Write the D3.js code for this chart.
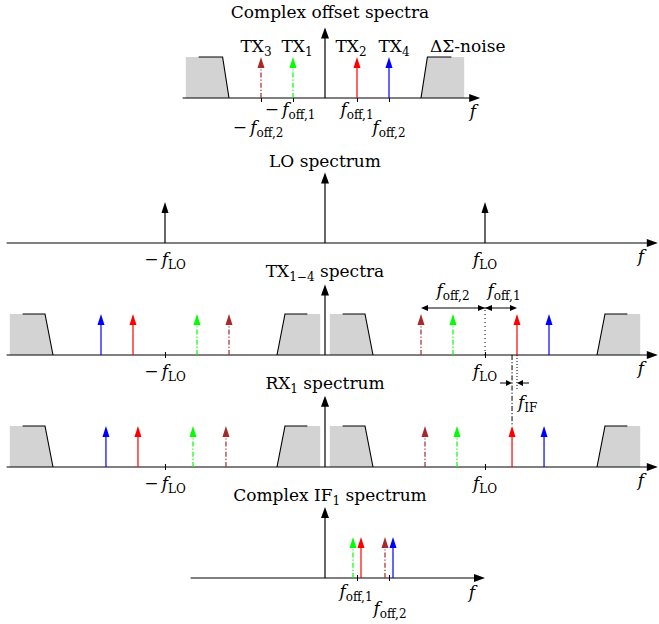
<!DOCTYPE html>
<html><head><meta charset="utf-8">
<script src="https://cdn.jsdelivr.net/npm/d3@7"></script>
<style>
body{margin:0;background:#fff}
svg{display:block}
text{font-family:"DejaVu Serif",serif;font-size:17px;fill:#000}
</style>
</head><body><div id="chart"></div>
<script>
// all frequencies in units of f_LO
const txNames = ["TX1", "TX2", "TX3", "TX4"];
const txColors = ["#00ff00", "#ff0000", "#a52a2a", "#0000ff"];
const txDashed = [true, false, true, false];
const offsetFreq = [-0.2, 0.2, -0.4, 0.4];
const loFreq = [-1, 1];
const rxFreqPos = [0.825, 1.169, 0.625, 1.369];
const rxFreqNeg = [-0.825, -1.169, -0.619, -1.369];
const ifFreq = [0.175, 0.225, 0.375, 0.425];
const fOff = [0.2, 0.4];
const offsetNoise = [-0.87, -0.79, -0.64, -0.60];
const rfNoise = [-0.97, -0.89, -0.75, -0.70];

const W = 659, H = 624;
const svg = d3.select("#chart").append("svg").attr("width", W).attr("height", H);
const x = d3.scaleLinear().domain([-1, 1]).range([165, 485]);

const panel = (base) => d3.scaleLinear().domain([0, 1]).range([base, base - 41]);

const MINUS = "\u2212\u2009";

const tex = (g, xc, y, parts, anchor = "middle") => {
  const t = g.append("text").attr("x", xc).attr("y", y).attr("text-anchor", anchor);
  let sub = false;
  parts.forEach(([s, kind]) => {
    const ts = t.append("tspan").text(s);
    if (kind === "i") ts.style("font-style", "italic");
    if (kind === "s") {
      ts.style("font-size", "12px");
      if (!sub) { ts.attr("dy", 4); sub = true; }
    } else if (sub) { ts.attr("dy", -4); sub = false; }
  });
  return t;
};

const head = (g, xt, yt, dir, color, len = 11, hw = 3.5) => {
  let pts;
  if (dir === "up") pts = [[xt, yt], [xt - hw, yt + len], [xt + hw, yt + len]];
  if (dir === "right") pts = [[xt, yt], [xt - len, yt - hw], [xt - len, yt + hw]];
  if (dir === "left") pts = [[xt, yt], [xt + len, yt - hw], [xt + len, yt + hw]];
  g.append("path").attr("d", d3.line()(pts) + "Z").attr("fill", color);
};

const axes = (g, y, f0, f1, yTop) => {
  g.append("line").attr("x1", x(f0)).attr("x2", x(f1) - 6).attr("y1", y(0)).attr("y2", y(0))
    .attr("stroke", "#000").attr("stroke-width", 1);
  head(g, x(f1), y(0), "right", "#000", 11, 4);
  g.append("line").attr("x1", x(0)).attr("x2", x(0)).attr("y1", y(0)).attr("y2", y(yTop) + 6)
    .attr("stroke", "#000").attr("stroke-width", 1.2);
  head(g, x(0), y(yTop), "up", "#000", 11, 4);
};

const ticks = (g, y, vals, up, down) => {
  const ax = g.append("g").attr("transform", `translate(0,${y(0)})`)
    .call(d3.axisBottom(x).tickValues(vals).tickSize(0).tickFormat(""));
  ax.select(".domain").remove();
  ax.selectAll(".tick line").attr("y1", -up).attr("y2", down).attr("stroke", "#000");
};

const spike = (g, y, f, color, dashed, amp = 1) => {
  g.append("line").attr("x1", x(f)).attr("x2", x(f)).attr("y1", y(0)).attr("y2", y(amp) + 9)
    .attr("stroke", color).attr("stroke-width", 1.2)
    .attr("stroke-dasharray", dashed ? "5,2,1.2,2" : null);
  head(g, x(f), y(amp), "up", color);
};

const noise = (g, y, center, s) => {
  [1, -1].forEach(m => {
    const p = v => x(center + m * v);
    g.append("path")
      .attr("d", d3.line()([[p(s[0]), y(0)], [p(s[0]), y(1)], [p(s[2]), y(1)], [p(s[3]), y(0)]]) + "Z")
      .attr("fill", "#d3d3d3");
    g.append("path")
      .attr("d", d3.line()([[p(s[1]), y(1)], [p(s[2]), y(1)], [p(s[3]), y(0)]]))
      .attr("fill", "none").attr("stroke", "#000").attr("stroke-width", 1.1);
  });
};

// ---- Complex offset spectra
{
  const g = svg.append("g"), y = panel(98);
  noise(g, y, 0, offsetNoise);
  axes(g, y, -0.89, 0.97, 1.72);
  ticks(g, y, offsetFreq, 0, 4);
  offsetFreq.forEach((f, i) => spike(g, y, f, txColors[i], txDashed[i]));
  const nudge = [4, -6, -5, 5];
  offsetFreq.forEach((f, i) => tex(g, x(f) + nudge[i], 52, [["TX", "r"], [txNames[i].slice(2), "s"]]));
  tex(g, 430, 52, [["ΔΣ-noise", "r"]], "start");
  tex(g, x(-fOff[0]) - 3, 115, [[MINUS, "r"], ["f", "i"], ["off,1", "s"]]);
  tex(g, x(-fOff[1]) - 3, 133, [[MINUS, "r"], ["f", "i"], ["off,2", "s"]]);
  tex(g, x(fOff[0]), 115, [["f", "i"], ["off,1", "s"]]);
  tex(g, x(fOff[1]), 133, [["f", "i"], ["off,2", "s"]]);
  tex(g, 473, 117, [["f", "i"]]);
  tex(g, 330, 18, [["Complex offset spectra", "r"]]);
}

// ---- LO spectrum
{
  const g = svg.append("g"), y = panel(243);
  axes(g, y, -1.99, 2.08, 1.72);
  loFreq.forEach(f => spike(g, y, f, "#000", false));
  tex(g, x(-1), 265, [[MINUS, "r"], ["f", "i"], ["LO", "s"]]);
  tex(g, x(1), 265, [["f", "i"], ["LO", "s"]]);
  tex(g, 641, 262, [["f", "i"]]);
  tex(g, 325, 167, [["LO spectrum", "r"]]);
}

// ---- TX1-4 spectra
{
  const g = svg.append("g"), y = panel(355);
  noise(g, y, -1, rfNoise);
  noise(g, y, 1, rfNoise);
  axes(g, y, -1.99, 2.08, 1.72);
  ticks(g, y, loFreq, 3, 3);
  offsetFreq.forEach((f, i) => {
    spike(g, y, 1 + f, txColors[i], txDashed[i]);
    spike(g, y, -1 - f, txColors[i], txDashed[i]);
  });
  // offset annotation
  const ya = 308;
  g.append("line").attr("x1", x(1)).attr("x2", x(1)).attr("y1", y(0)).attr("y2", ya)
    .attr("stroke", "#000").attr("stroke-dasharray", "1,3");
  g.append("line").attr("x1", x(1 - fOff[1]) + 4).attr("x2", x(1 + fOff[0]) - 4).attr("y1", ya).attr("y2", ya)
    .attr("stroke", "#000");
  head(g, x(1 - fOff[1]), ya, "left", "#000", 7, 3);
  head(g, x(1), ya, "right", "#000", 7, 3);
  head(g, x(1), ya, "left", "#000", 7, 3);
  head(g, x(1 + fOff[0]), ya, "right", "#000", 7, 3);
  tex(g, x(1 - fOff[1] / 2), 296, [["f", "i"], ["off,2", "s"]]);
  tex(g, x(1 + fOff[0] / 2) + 3, 296, [["f", "i"], ["off,1", "s"]]);
  // IF annotation
  const yi = 383;
  const xa = x(1 + fOff[0]), xb = x(rxFreqPos[1]);
  g.append("line").attr("x1", xa).attr("x2", xa).attr("y1", y(0)).attr("y2", yi + 6)
    .attr("stroke", "#000").attr("stroke-dasharray", "1,2");
  g.append("line").attr("x1", xb).attr("x2", xb).attr("y1", y(0)).attr("y2", 426)
    .attr("stroke", "#000").attr("stroke-dasharray", "5,2,1.2,2");
  g.append("line").attr("x1", xb - 12).attr("x2", xb - 4).attr("y1", yi).attr("y2", yi).attr("stroke", "#000");
  head(g, xb, yi, "right", "#000", 6, 3);
  g.append("line").attr("x1", xa + 12).attr("x2", xa + 4).attr("y1", yi).attr("y2", yi).attr("stroke", "#000");
  head(g, xa, yi, "left", "#000", 6, 3);
  tex(g, xa + 1, 408, [["f", "i"], ["IF", "s"]], "start");
  tex(g, x(-1), 377, [[MINUS, "r"], ["f", "i"], ["LO", "s"]]);
  tex(g, x(1), 377, [["f", "i"], ["LO", "s"]]);
  tex(g, 641, 374, [["f", "i"]]);
  tex(g, 325, 277, [["TX", "r"], ["1−4", "s"], [" spectra", "r"]]);
}

// ---- RX1 spectrum
{
  const g = svg.append("g"), y = panel(467);
  noise(g, y, -1, rfNoise);
  noise(g, y, 1, rfNoise);
  axes(g, y, -1.99, 2.08, 1.74);
  ticks(g, y, loFreq, 3, 3);
  rxFreqPos.forEach((f, i) => spike(g, y, f, txColors[i], txDashed[i]));
  rxFreqNeg.forEach((f, i) => spike(g, y, f, txColors[i], txDashed[i]));
  tex(g, x(-1), 489, [[MINUS, "r"], ["f", "i"], ["LO", "s"]]);
  tex(g, x(1), 489, [["f", "i"], ["LO", "s"]]);
  tex(g, 641, 486, [["f", "i"]]);
  tex(g, 325, 389, [["RX", "r"], ["1", "s"], [" spectrum", "r"]]);
}

// ---- Complex IF1 spectrum
{
  const g = svg.append("g"), y = panel(578);
  axes(g, y, -0.84, 1.0, 1.73);
  ticks(g, y, fOff, 3, 3);
  ifFreq.forEach((f, i) => spike(g, y, f, txColors[i], txDashed[i]));
  tex(g, x(fOff[0]) - 1, 597, [["f", "i"], ["off,1", "s"]]);
  tex(g, x(fOff[1]) + 1, 614, [["f", "i"], ["off,2", "s"]]);
  tex(g, 472, 598, [["f", "i"]]);
  tex(g, 330, 501, [["Complex IF", "r"], ["1", "s"], [" spectrum", "r"]]);
}
</script>
</body></html>
